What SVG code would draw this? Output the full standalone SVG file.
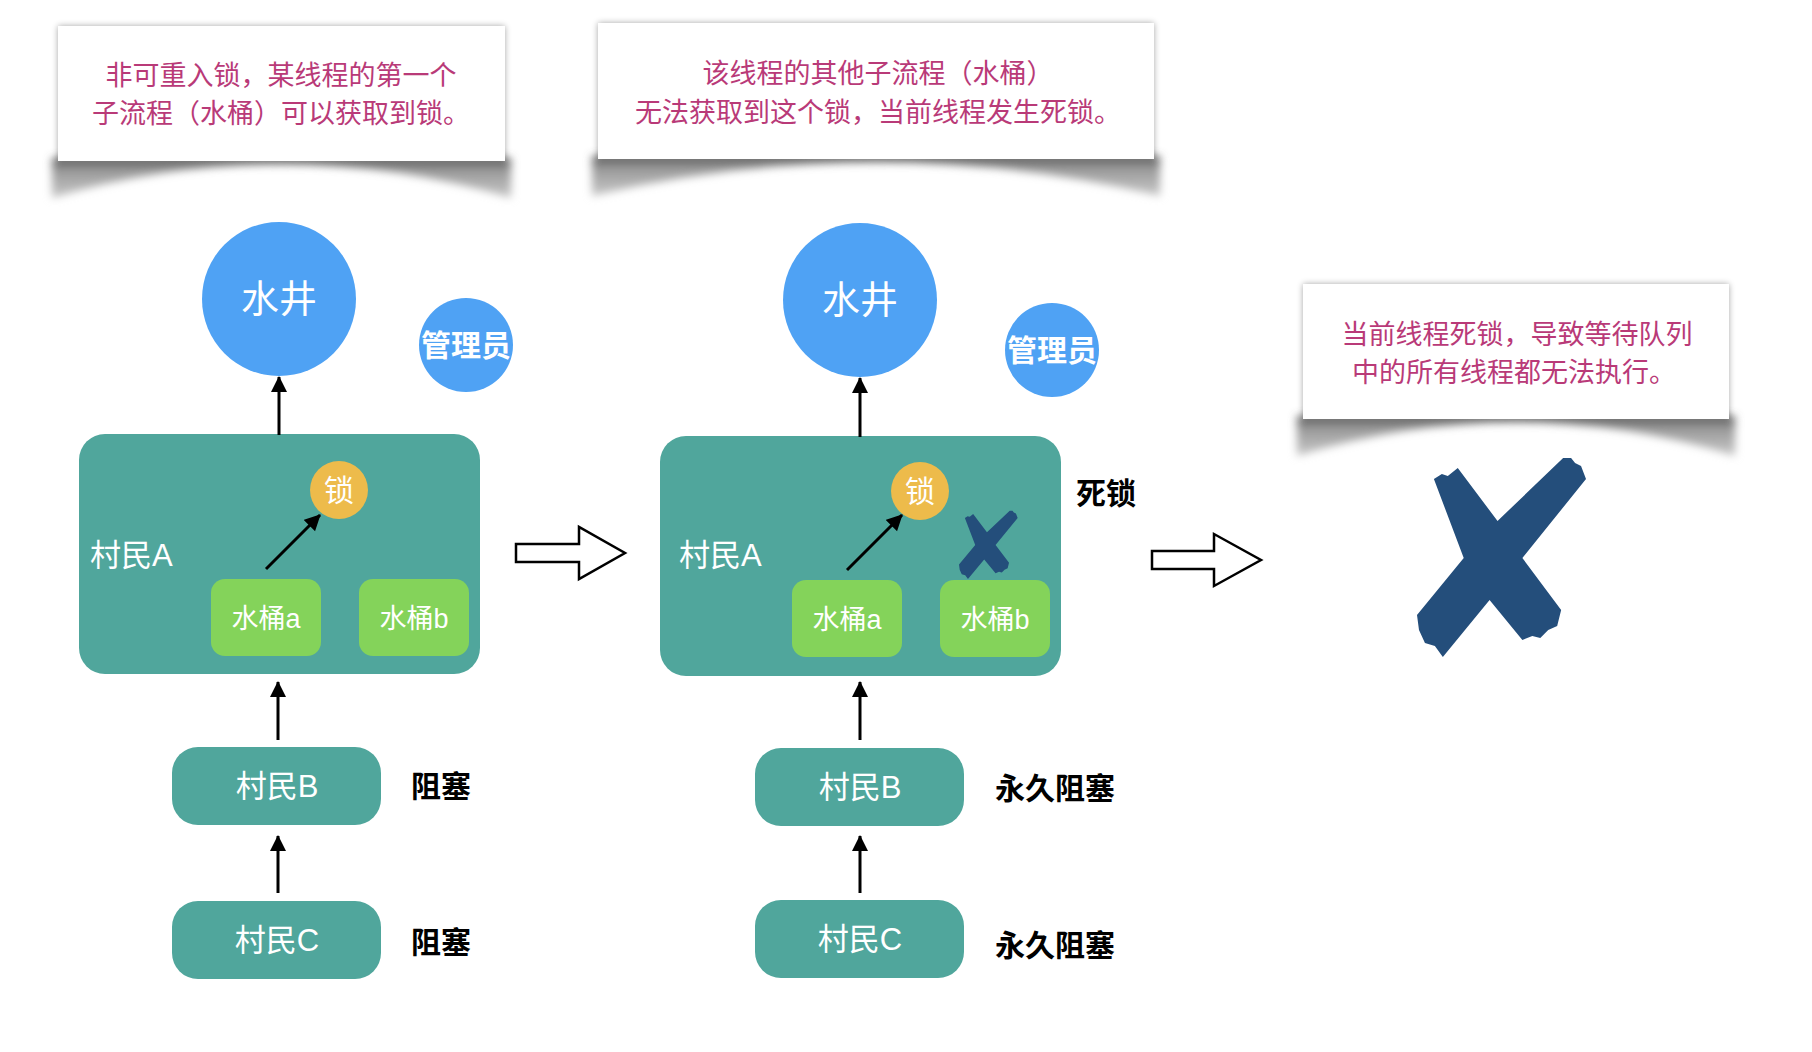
<svg xmlns="http://www.w3.org/2000/svg" width="1812" height="1052" viewBox="0 0 1812 1052">
<style>
.cap{font-family:"Liberation Sans","Noto Sans CJK SC",sans-serif;font-size:27px;fill:#b93a78;text-anchor:middle}
.w{font-family:"Liberation Sans","Noto Sans CJK SC",sans-serif;fill:#ffffff}
.b{font-weight:bold}
.lbl{font-family:"Liberation Sans","Noto Sans CJK SC",sans-serif;font-size:30px;font-weight:bold;fill:#000000}
.well{fill:#4fa2f4}
.grp{fill:#50a69c}
.lock{fill:#edbb4b}
.pail{fill:#84d35a}
.conn{stroke:#000;stroke-width:3;fill:none}
.hollow{stroke:#000;stroke-width:2.5;fill:#fff}
.xmark{fill:#244e7b}
.capbox{fill:#ffffff;filter:url(#boxsh)}
.curl{fill:url(#curlg);filter:url(#blur)}
</style>
<defs>
<marker id="ah" markerUnits="userSpaceOnUse" markerWidth="16" markerHeight="18" refX="15" refY="8" orient="auto">
<path d="M0,0 L16,8 L0,16 Z" fill="#000"/>
</marker>
<linearGradient id="curlg" x1="0" y1="0" x2="0" y2="1">
<stop offset="0" stop-color="#505050"/>
<stop offset="0.3" stop-color="#999999"/>
<stop offset="1" stop-color="#c8c8c8"/>
</linearGradient>
<filter id="boxsh" x="-5%" y="-10%" width="110%" height="120%">
<feGaussianBlur in="SourceAlpha" stdDeviation="3"/>
<feComponentTransfer><feFuncA type="linear" slope="0.35"/></feComponentTransfer>
<feMerge><feMergeNode/><feMergeNode in="SourceGraphic"/></feMerge>
</filter>
<filter id="blur" x="-10%" y="-50%" width="120%" height="200%">
<feGaussianBlur stdDeviation="4"/>
</filter>
<symbol id="xs" viewBox="0 0 171 201" preserveAspectRatio="none" overflow="visible">
<path d="M17,23 L25,18 L31,20 L41,12 L81,65 L147,2 L155,2 L159,7 L165,10 L170,23 L106,102 L145,154 L141,170 L132,174 L124,182 L116,180 L106,184 L73,144 L26,201 L18,190 L8,187 L2,174 L0,159 L47,102 Z"/>
</symbol>
</defs>
<rect width="1812" height="1052" fill="#ffffff"/>

<g id="caption1">
<path class="curl" d="M52,158 L511,158 L511,198 Q281,130 52,198 Z"/>
<rect class="capbox" x="58" y="26" width="447" height="135"/>
<text class="cap" x="281" y="85">非可重入锁，某线程的第一个</text>
<text class="cap" x="281" y="123">子流程（水桶）可以获取到锁。</text>
</g>

<g id="caption2">
<path class="curl" d="M592,156 L1160,156 L1160,196 Q876,128 592,196 Z"/>
<rect class="capbox" x="598" y="23" width="556" height="136"/>
<text class="cap" x="878" y="83">该线程的其他子流程（水桶）</text>
<text class="cap" x="878" y="122">无法获取到这个锁，当前线程发生死锁。</text>
</g>

<g id="caption3">
<path class="curl" d="M1297,416 L1735,416 L1735,456 Q1516,388 1297,456 Z"/>
<rect class="capbox" x="1303" y="284" width="426" height="135"/>
<text class="cap" x="1517" y="344">当前线程死锁，导致等待队列</text>
<text class="cap" x="1514" y="382">中的所有线程都无法执行。</text>
</g>

<g id="well1">
<circle class="well" cx="279" cy="299" r="77"/>
<text class="w" x="279" y="312" font-size="38" text-anchor="middle">水井</text>
</g>
<g id="admin1">
<circle class="well" cx="466" cy="345" r="47"/>
<text class="w b" x="466" y="356" font-size="30" text-anchor="middle">管理员</text>
</g>
<g id="villagerA1">
<rect class="grp" x="79" y="434" width="401" height="240" rx="26"/>
<text class="w" x="90" y="566" font-size="31">村民A</text>
</g>
<g id="lock1">
<circle class="lock" cx="339" cy="490" r="29"/>
<text class="w" x="339" y="501" font-size="30" text-anchor="middle">锁</text>
</g>
<g id="pailA1">
<rect class="pail" x="211" y="579" width="110" height="77" rx="14"/>
<text class="w" x="266" y="628" font-size="27" text-anchor="middle">水桶a</text>
</g>
<g id="pailB1">
<rect class="pail" x="359" y="579" width="110" height="77" rx="14"/>
<text class="w" x="414" y="628" font-size="27" text-anchor="middle">水桶b</text>
</g>
<g id="villagerB1">
<rect class="grp" x="172" y="747" width="209" height="78" rx="26"/>
<text class="w" x="277" y="797" font-size="31" text-anchor="middle">村民B</text>
</g>
<g id="villagerC1">
<rect class="grp" x="172" y="901" width="209" height="78" rx="26"/>
<text class="w" x="277" y="951" font-size="31" text-anchor="middle">村民C</text>
</g>
<g id="status1">
<text class="lbl" x="411" y="797">阻塞</text>
<text class="lbl" x="411" y="953">阻塞</text>
</g>

<g id="well2">
<circle class="well" cx="860" cy="300" r="77"/>
<text class="w" x="860" y="313" font-size="38" text-anchor="middle">水井</text>
</g>
<g id="admin2">
<circle class="well" cx="1052" cy="350" r="47"/>
<text class="w b" x="1052" y="361" font-size="30" text-anchor="middle">管理员</text>
</g>
<g id="villagerA2">
<rect class="grp" x="660" y="436" width="401" height="240" rx="26"/>
<text class="w" x="679" y="566" font-size="31">村民A</text>
</g>
<g id="lock2">
<circle class="lock" cx="920" cy="491" r="29"/>
<text class="w" x="920" y="502" font-size="30" text-anchor="middle">锁</text>
</g>
<g id="pailA2">
<rect class="pail" x="792" y="580" width="110" height="77" rx="14"/>
<text class="w" x="847" y="629" font-size="27" text-anchor="middle">水桶a</text>
</g>
<g id="pailB2">
<rect class="pail" x="940" y="580" width="110" height="77" rx="14"/>
<text class="w" x="995" y="629" font-size="27" text-anchor="middle">水桶b</text>
</g>
<g id="smallX">
<use href="#xs" class="xmark" x="959" y="510" width="59" height="69"/>
</g>
<g id="deadlock">
<text class="lbl" x="1076" y="504">死锁</text>
</g>
<g id="villagerB2">
<rect class="grp" x="755" y="748" width="209" height="78" rx="26"/>
<text class="w" x="860" y="798" font-size="31" text-anchor="middle">村民B</text>
</g>
<g id="villagerC2">
<rect class="grp" x="755" y="900" width="209" height="78" rx="26"/>
<text class="w" x="860" y="950" font-size="31" text-anchor="middle">村民C</text>
</g>
<g id="status2">
<text class="lbl" x="995" y="799">永久阻塞</text>
<text class="lbl" x="995" y="956">永久阻塞</text>
</g>

<g id="bigX">
<use href="#xs" class="xmark" x="1417" y="456" width="170" height="201"/>
</g>

<g id="connectors">
<line class="conn" x1="279" y1="435" x2="279" y2="377" marker-end="url(#ah)"/>
<line class="conn" x1="278" y1="740" x2="278" y2="682" marker-end="url(#ah)"/>
<line class="conn" x1="278" y1="893" x2="278" y2="836" marker-end="url(#ah)"/>
<line class="conn" x1="266" y1="569" x2="320" y2="515" marker-end="url(#ah)"/>
<line class="conn" x1="860" y1="437" x2="860" y2="378" marker-end="url(#ah)"/>
<line class="conn" x1="860" y1="740" x2="860" y2="682" marker-end="url(#ah)"/>
<line class="conn" x1="860" y1="893" x2="860" y2="836" marker-end="url(#ah)"/>
<line class="conn" x1="847" y1="570" x2="902" y2="515" marker-end="url(#ah)"/>
<polygon class="hollow" points="516,544 579,544 579,527 625,553 579,579 579,562 516,562"/>
<polygon class="hollow" points="1152,551 1214,551 1214,534 1261,560 1214,586 1214,569 1152,569"/>
</g>
</svg>
